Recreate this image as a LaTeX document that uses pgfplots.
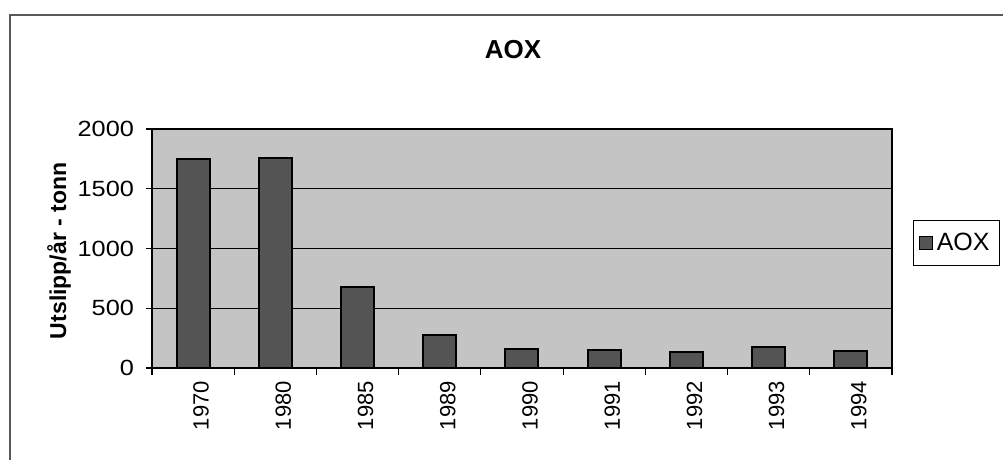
\documentclass[border=0pt]{standalone}
\usepackage{pgfplots}
\pgfplotsset{compat=1.18}
\usepackage{fontspec}
\setmainfont{Liberation Sans}
\newfontfamily\widefont{Liberation Sans}[FakeStretch=1.15]
\definecolor{bgc}{HTML}{C4C4C4}
\definecolor{barc}{HTML}{545454}
\begin{document}
\begin{tikzpicture}[x=1pt,y=1pt]
\useasboundingbox (0,0) rectangle (501.5,230);
\draw[line width=0.6pt, gray!70!black] (5,0) -- (5,222.5) -- (501.5,222.5);
\node[font=\bfseries\fontsize{13}{15}\selectfont] at (256.5,205) {AOX};
\begin{axis}[
  at={(76pt,46pt)}, anchor=south west,
  scale only axis, width=370pt, height=119.5pt,
  xmin=-0.5, xmax=8.5, ymin=0, ymax=2000,
  ytick={0,500,...,2000},
  ymajorgrids, grid style={black, line width=0.6pt},
  axis background/.style={fill=bgc},
  axis line style={black, line width=0.7pt},
  xtick={0,...,8},
  xticklabels={1970,1980,1985,1989,1990,1991,1992,1993,1994},
  ticklabel style={font=\fontsize{11}{13}\selectfont},
  x tick label style={rotate=90, anchor=east, yshift=-4pt},
  y tick label style={xshift=-2.5pt, font=\widefont\fontsize{11}{13}\selectfont},
  minor xtick={-0.5,0.5,...,8.5},
  xtick pos=lower, ytick pos=left,
  tick align=outside,
  major tick length=3pt, minor tick length=3.5pt,
  major x tick style={draw=none},
  tick style={black, line width=0.6pt},
  /pgf/number format/assume math mode=true,
  /pgf/number format/1000 sep={},
  ylabel={Utslipp/år - tonn},
  ylabel style={at={(axis description cs:-0.1257,0.49)}, anchor=center, font=\bfseries\fontsize{11.5}{13}\selectfont},
  legend style={at={(1.028,0.523)}, anchor=west, draw=black, line width=0.5pt, font=\fontsize{12.5}{14}\selectfont, inner xsep=3pt, inner ysep=4pt},
]
\addplot[ybar, bar width=16.5pt, fill=barc, draw=black, line width=1pt,
  legend image code/.code={\draw[fill=barc, draw=black, line width=0.4pt] (0pt,-3.2pt) rectangle (6.4pt,3.2pt);}]
  coordinates {(0,1750) (1,1760) (2,675) (3,275) (4,160) (5,150) (6,135) (7,175) (8,145)};
\addlegendentry{AOX}
\end{axis}
\end{tikzpicture}
\end{document}
